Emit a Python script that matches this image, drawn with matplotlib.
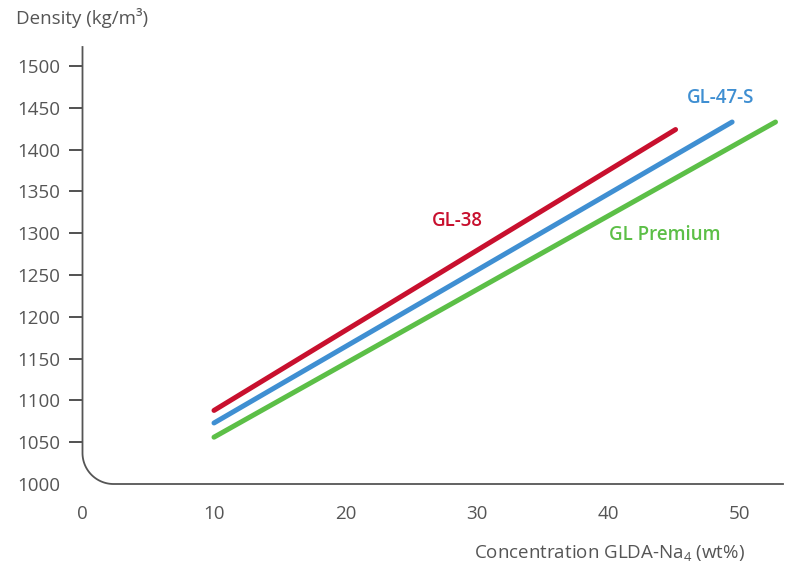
import numpy as np
import matplotlib
matplotlib.use("Agg")
import matplotlib.pyplot as plt

plt.rcParams['font.family'] = ['Open Sans', 'DejaVu Sans']
plt.rcParams['mathtext.fontset'] = 'custom'
plt.rcParams['mathtext.rm'] = 'Open Sans'
plt.rcParams['mathtext.it'] = 'Open Sans'

# data (start and end of each straight line)
names = ["GL-38", "GL-47-S", "GL Premium"]
conc = [[10, 45.1], [10, 49.4], [10, 52.7]]
density = [[1088, 1424], [1073, 1433], [1056, 1433]]
colors = ["#c8102e", "#3f8fd2", "#5cbf47"]
label_pos = [(28.5, 1315), (48.5, 1462), (44.3, 1298)]

yticks = [1000, 1050, 1100, 1150, 1200, 1250, 1300, 1350, 1400, 1450, 1500]
xticks = [0, 10, 20, 30, 40, 50]

W, H = 800, 583
fig = plt.figure(figsize=(8, 5.83), dpi=100)
x0, x1 = 82.5, 783
y0, y1 = 484, 47
ax = fig.add_axes([x0 / W, (H - y0) / H, (x1 - x0) / W, (y0 - y1) / H])

ax.set_xlim(0, (x1 - x0) / 13.15)
ax.set_ylim(1000, 1000 + (y0 - y1) * 50 / 41.8)

for n, xs, ys, c in zip(names, conc, density, colors):
    ax.plot(xs, ys, color=c, lw=3.6, solid_capstyle='round')

for n, (lx, ly), c in zip(names, label_pos, colors):
    ax.text(lx, ly, n, color=c, fontsize=13.5, fontweight='semibold',
            ha='center', va='center')

for s in ax.spines.values():
    s.set_visible(False)

# axis line with rounded corner
aw, ah = x1 - x0, y0 - y1
r = 31
rx, ry = r / aw, r / ah
t = np.linspace(np.pi, 1.5 * np.pi, 40)
px = np.concatenate([[0], rx + rx * np.cos(t), [1]])
py = np.concatenate([[1], ry + ry * np.sin(t), [0]])
ax.plot(px, py, transform=ax.transAxes, color="#555555", lw=1.3, clip_on=False)

ax.set_yticks(yticks)
ax.set_xticks(xticks)
ax.tick_params(axis='y', length=10, width=1.2, color="#333333", pad=6,
               labelsize=13.5, labelcolor="#555555")
ax.tick_params(axis='x', length=0, pad=15, labelsize=13.5, labelcolor="#555555")
ax.yaxis.get_major_ticks()[0].tick1line.set_visible(False)

fig.text(16 / W, 1 - 18 / H, "Density (kg/m³)", fontsize=13.5, color="#555555",
         ha='left', va='center')
fig.text(745 / W, 1 - 553 / H, "Concentration GLDA-Na$_4$ (wt%)", fontsize=13.5,
         color="#555555", ha='right', va='center')

fig.savefig("out.png", dpi=100)
